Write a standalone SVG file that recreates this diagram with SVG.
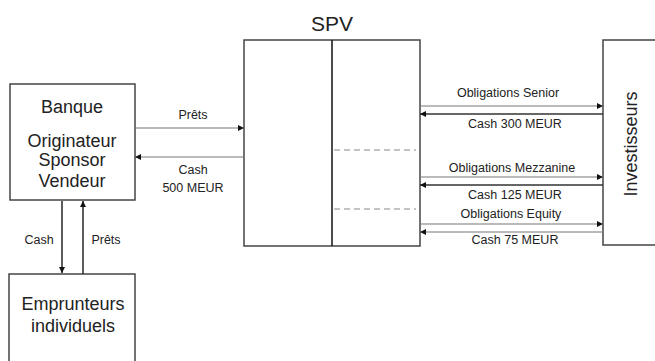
<svg xmlns="http://www.w3.org/2000/svg" width="655" height="361" viewBox="0 0 655 361">
  <defs>
    <marker id="ah" viewBox="0 0 10 10" refX="10" refY="5" markerWidth="8" markerHeight="6" markerUnits="userSpaceOnUse" orient="auto">
      <path d="M0,0 L10,5 L0,10 Z" fill="#111"/>
    </marker>
    <style>
      .box { fill: #fff; stroke: #444; stroke-width: 1.5; }
      .t { font-family: "Liberation Sans", Arial, sans-serif; fill: #222; text-anchor: middle; }
      .big { font-size: 18px; }
      .sm { font-size: 12.5px; }
      .conn { fill: none; stroke: #777; stroke-width: 1.2; marker-end: url(#ah); }
      .dark { stroke: #333; stroke-width: 1.6; }
      .dash { stroke: #888; stroke-width: 1.2; stroke-dasharray: 6 4; fill: none; }
    </style>
  </defs>
  <rect width="655" height="361" fill="#fff"/>

  <g id="banque">
    <rect class="box" x="10" y="84" width="125" height="116"/>
    <text class="t big" x="72" y="113">Banque</text>
    <text class="t big" x="72" y="147">Originateur</text>
    <text class="t big" x="72" y="166">Sponsor</text>
    <text class="t big" x="72" y="187">Vendeur</text>
  </g>

  <g id="emprunteurs">
    <rect class="box" x="9" y="274" width="126" height="100"/>
    <text class="t big" x="73" y="310">Emprunteurs</text>
    <text class="t big" x="73" y="332">individuels</text>
  </g>

  <g id="spv">
    <text class="t" x="332" y="31" font-size="21">SPV</text>
    <rect class="box" x="244" y="40" width="176" height="206"/>
    <line x1="332" y1="40" x2="332" y2="246" stroke="#111" stroke-width="1.5"/>
    <line class="dash" x1="334" y1="150" x2="416" y2="150"/>
    <line class="dash" x1="334" y1="209" x2="416" y2="209"/>
  </g>

  <g id="investisseurs">
    <rect class="box" x="603" y="40" width="60" height="205"/>
    <text class="t big" transform="translate(637,144) rotate(-90)" x="0" y="0">Investisseurs</text>
  </g>

  <g id="connectors">
    <line class="conn dark" x1="62" y1="201" x2="62" y2="273"/>
    <line class="conn dark" x1="83" y1="274" x2="83" y2="201"/>
    <line class="conn" x1="135" y1="128" x2="244" y2="128"/>
    <line class="conn" x1="244" y1="157" x2="135" y2="157"/>
    <line class="conn" x1="420" y1="106" x2="603" y2="106"/>
    <line class="conn dark" x1="603" y1="114" x2="420" y2="114"/>
    <line class="conn" x1="420" y1="177" x2="603" y2="177"/>
    <line class="conn dark" x1="603" y1="185" x2="420" y2="185"/>
    <line class="conn" x1="420" y1="224" x2="603" y2="224" stroke="#999"/>
    <line class="conn" x1="603" y1="232" x2="420" y2="232" stroke="#999"/>
  </g>

  <g id="labels">
    <text class="t sm" x="39" y="244">Cash</text>
    <text class="t sm" x="106" y="244">Prêts</text>
    <text class="t sm" x="193" y="119">Prêts</text>
    <text class="t sm" x="193" y="174">Cash</text>
    <text class="t sm" x="193" y="192">500 MEUR</text>
    <text class="t sm" x="508" y="97">Obligations Senior</text>
    <text class="t sm" x="515" y="128">Cash 300 MEUR</text>
    <text class="t sm" x="512" y="172">Obligations Mezzanine</text>
    <text class="t sm" x="515" y="199">Cash 125 MEUR</text>
    <text class="t sm" x="511" y="218">Obligations Equity</text>
    <text class="t sm" x="515" y="244">Cash 75 MEUR</text>
  </g>
</svg>
